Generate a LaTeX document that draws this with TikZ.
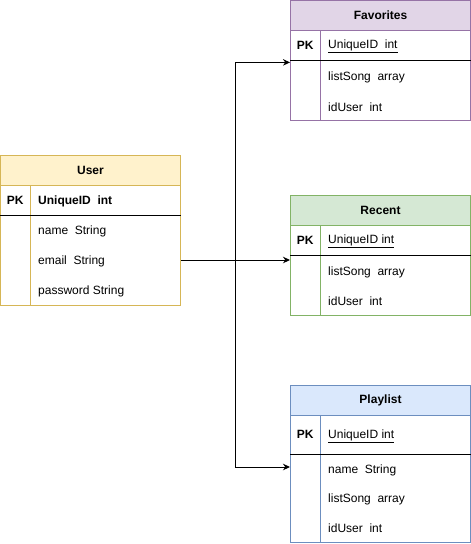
\documentclass[tikz,border=0pt]{standalone}
\usepackage{fontspec}
\setmainfont{Liberation Sans}
\usetikzlibrary{arrows.meta,calc,positioning}
\definecolor{eryellow}{HTML}{FFF2CC}
\definecolor{eryellowline}{HTML}{D6B656}
\definecolor{erpurple}{HTML}{E1D5E7}
\definecolor{erpurpleline}{HTML}{9673A6}
\definecolor{ergreen}{HTML}{D5E8D4}
\definecolor{ergreenline}{HTML}{82B366}
\definecolor{erblue}{HTML}{DAE8FC}
\definecolor{erblueline}{HTML}{6C8EBF}
\tikzset{
  er text/.style={font=\fontsize{12}{14}\selectfont, text=black},
  er head/.style={anchor=north west, minimum width=180pt, minimum height=30pt,
    inner sep=0pt, line width=1pt, font=\fontsize{12}{14}\selectfont\bfseries},
  er body/.style={anchor=north west, minimum width=180pt, inner sep=0pt,
    line width=1pt, fill=white},
  er pk/.style={anchor=north west, minimum width=30pt, minimum height=30pt,
    inner sep=0pt, font=\fontsize{12}{14}\selectfont\bfseries},
  er field/.style={anchor=west, inner sep=0pt, yshift=-1.5pt},
  er key/.style={er field, font=\fontsize{12}{14}\selectfont\bfseries},
  er rule/.style={draw=black, line width=1pt},
  er arrow/.style={-{Stealth[length=7pt,width=6.5pt]}, line width=1pt, draw=black}
}

\begin{document}
\begin{tikzpicture}[er text, x=1pt, y=-1pt]
  \useasboundingbox (0,0) rectangle (471,544);
  % User
  \node[er head, fill=eryellow, draw=eryellowline] (userHead) at (0,155) {User};
  \node[er body, draw=eryellowline, minimum height=120pt] (userBody) at (0,185) {};
  \node[er pk] (userPk) at (0,185) {PK};
  \draw[eryellowline, line width=1pt] (userPk.north east) -- (userPk.east |- userBody.south);
  \draw[er rule] (userPk.south west) -- (userBody.east |- userPk.south);
  \node[er key] (userKey) at (38,200) {UniqueID\ \ int};
  \node[er field] (userName) at (38,230) {name\ \ String};
  \node[er field] (userEmail) at (38,260) {email\ \ String};
  \node[er field] (userPass) at (38,290) {password String};
  % Favorites
  \node[er head, fill=erpurple, draw=erpurpleline] (favHead) at (290,0) {Favorites};
  \node[er body, draw=erpurpleline, minimum height=90pt] (favBody) at (290,30) {};
  \node[er pk] (favPk) at (290,30) {PK};
  \draw[erpurpleline, line width=1pt] (favPk.north east) -- (favPk.east |- favBody.south);
  \draw[er rule] (favPk.south west) -- (favBody.east |- favPk.south);
  \node[er field] (favKey) at (328,45) {\underline{UniqueID\ \ int}};
  \node[er field] (favList) at (328,76) {listSong\ \ array};
  \node[er field] (favUser) at (328,106) {idUser\ \ int};
  % Recent
  \node[er head, fill=ergreen, draw=ergreenline] (recHead) at (290,195) {Recent};
  \node[er body, draw=ergreenline, minimum height=90pt] (recBody) at (290,225) {};
  \node[er pk] (recPk) at (290,225) {PK};
  \draw[ergreenline, line width=1pt] (recPk.north east) -- (recPk.east |- recBody.south);
  \draw[er rule] (recPk.south west) -- (recBody.east |- recPk.south);
  \node[er field] (recKey) at (328,240) {\underline{UniqueID int}};
  \node[er field] (recList) at (328,271) {listSong\ \ array};
  \node[er field] (recUser) at (328,300) {idUser\ \ int};
  % Playlist
  \node[er head, fill=erblue, draw=erblueline] (plHead) at (290,385) {Playlist};
  \node[er body, draw=erblueline, minimum height=127pt] (plBody) at (290,415) {};
  \node[er pk, minimum height=39pt] (plPk) at (290,415) {PK};
  \draw[erblueline, line width=1pt] (plPk.north east) -- (plPk.east |- plBody.south);
  \draw[er rule] (plPk.south west) -- (plBody.east |- plPk.south);
  \node[er field] (plKey) at (328,434.5) {\underline{UniqueID int}};
  \node[er field] (plName) at (328,469) {name\ \ String};
  \node[er field] (plList) at (328,498) {listSong\ \ array};
  \node[er field] (plUser) at (328,527) {idUser\ \ int};
  % connectors
  \coordinate (fork) at (235,260);
  \coordinate (userOut) at (userBody.east |- fork);
  \draw[er arrow] (userOut) -- (recBody.west |- fork);
  \draw[er arrow] (userOut) -- (fork) |- ($(favPk.south west)+(0,2)$);
  \draw[er arrow] (userOut) -- (fork) |- ($(plBody.west |- plName)+(0,-3.5)$);
\end{tikzpicture}
\end{document}
